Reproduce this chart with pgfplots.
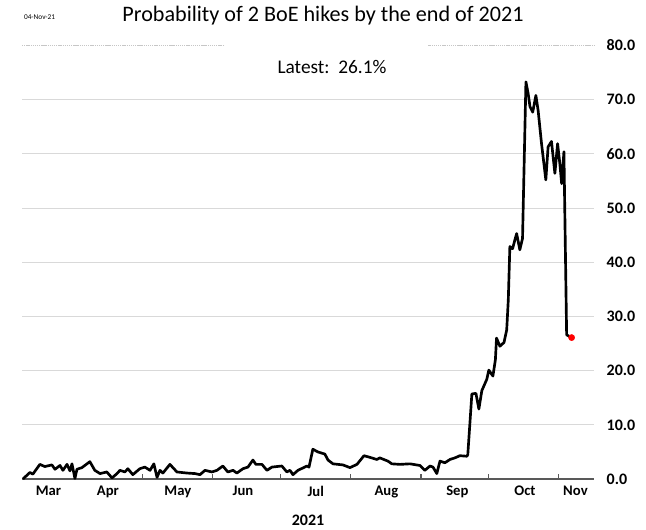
\documentclass[border=0pt]{standalone}
\usepackage{pgfplots}
\pgfplotsset{compat=1.18}
\usepackage{fontspec}
\setmainfont{Carlito}
\definecolor{axisgray}{HTML}{595959}
\definecolor{gridgray}{HTML}{D9D9D9}
\begin{document}
\begin{tikzpicture}
\path[use as bounding box] (0,0) rectangle (484.5pt,396.75pt);
\begin{axis}[
  at={(16.5pt,37.5pt)}, anchor=south west,
  scale only axis, width=429pt, height=325.1pt,
  xmin=67.6, xmax=320.5, ymin=0, ymax=80,
  separate axis lines,
  axis x line*=bottom, axis y line*=right,
  x axis line style={draw=axisgray, line width=1.6pt, -},
  y axis line style={draw=none},
  xtick={79.3,105.6,136.5,165.3,197.5,228.7,260.1,290,312.3},
  xticklabels={Mar,Apr,May,Jun,Jul,Aug,Sep,Oct,Nov},
  major x tick style={draw=none},
  minor xtick={91,121,152,182,213,244,274,305},
  minor x tick style={draw=axisgray, line width=0.8pt},
  minor tick length=4pt,
  tick align=inside,
  xticklabel style={font=\bfseries\fontsize{11}{13}\selectfont, yshift=-2pt},
  ytick={0,10,...,70},
  extra y ticks={80},
  extra y tick style={grid style={draw=gray!45, line width=0.5pt, dash pattern=on 1pt off 0.6pt}},
  ytick style={draw=none},
  ymajorgrids,
  grid style={draw=gridgray, line width=0.8pt},
  yticklabel style={font=\bfseries\fontsize{12}{14}\selectfont, anchor=west, xshift=6pt},
  /pgf/number format/assume math mode=true,
  yticklabel={\pgfmathprintnumber[fixed,fixed zerofill,precision=1]{\tick}},
  clip=false,
]
\addplot[black, line width=2pt, line join=round] coordinates {
(68.0,0.0) (71.1,1.2) (72.4,0.9) (75.5,2.7) (77.7,2.3) (80.8,2.6) (82.2,1.8)
(84.4,2.5) (85.7,1.6) (87.5,2.7) (88.8,1.5) (89.7,2.8) (91.0,0.1) (91.9,1.8)
(94.1,2.1) (97.6,3.2) (99.8,1.6) (102.1,1.0) (105.1,1.3) (107.4,0.2) (109.6,1.0)
(110.9,1.6) (113.1,1.3) (114.4,1.9) (116.6,0.8) (119.7,1.9) (121.9,2.2) (124.2,1.6)
(125.9,2.8) (127.3,0.3) (128.6,1.6) (129.9,1.1) (133.0,2.7) (136.1,1.3) (140.5,1.1)
(144.1,1.0) (146.3,0.8) (148.5,1.6) (151.6,1.3) (153.8,1.6) (156.4,2.4) (158.6,1.3)
(160.9,1.6) (162.6,1.1) (165.3,1.9) (167.5,2.2) (169.7,3.5) (171.0,2.7) (173.7,2.7)
(175.9,1.6) (178.1,2.2) (180.3,2.3) (182.5,2.4) (184.7,1.3) (186.1,1.6) (187.4,0.8)
(189.6,1.6) (193.6,2.4) (194.5,2.2) (196.2,5.5) (198.4,5.0) (201.5,4.6) (202.9,3.5)
(205.1,2.8) (209.5,2.6) (212.6,2.1) (215.7,2.7) (218.8,4.3) (221.4,4.0) (224.5,3.6)
(225.8,3.9) (229.4,3.3) (231.1,2.8) (234.7,2.7) (239.1,2.8) (243.5,2.5) (245.7,1.6)
(248.0,2.4) (249.3,2.2) (251.0,1.0) (252.4,3.3) (254.6,3.0) (256.8,3.6) (259.0,3.9)
(261.2,4.3) (264.3,4.2) (264.7,4.5) (266.5,15.7) (268.3,15.8) (269.6,12.9) (270.9,16.3)
(273.1,18.4) (274.0,20.1) (275.8,19.0) (276.9,22.0) (277.4,26.0) (278.9,24.5) (280.7,25.2)
(281.9,27.5) (282.6,33.0) (283.3,42.9) (284.5,42.5) (285.5,44.1) (286.3,45.3) (287.7,42.3)
(288.9,44.4) (290.4,73.3) (291.4,71.1) (292.2,68.7) (293.4,67.7) (294.8,70.8) (295.8,68.0)
(297.3,61.9) (299.2,55.2) (300.2,61.3) (301.7,62.3) (303.2,56.4) (304.4,61.9) (305.4,58.2)
(306.2,54.5) (307.2,60.4) (308.4,26.6) (310.6,26.1)
};
\addplot[only marks, mark=*, mark size=2.3pt, color=red, fill=red] coordinates {(310.6,26.1)};
\end{axis}
\fill[white] (168.75pt,358pt) rectangle (321pt,367pt);
\node[anchor=west, font=\fontsize{5.5}{7}\selectfont] at (14.5pt,384pt) {04-Nov-21};
\node[font=\fontsize{16.6}{19}\selectfont] at (242.25pt,385pt) {Probability of 2 BoE hikes by the end of 2021};
\node[font=\fontsize{14.5}{17}\selectfont] at (249pt,346.5pt) {Latest:\ \ 26.1\%};
\node[font=\bfseries\fontsize{12}{14}\selectfont] at (231pt,6.75pt) {2021};
\end{tikzpicture}
\end{document}
